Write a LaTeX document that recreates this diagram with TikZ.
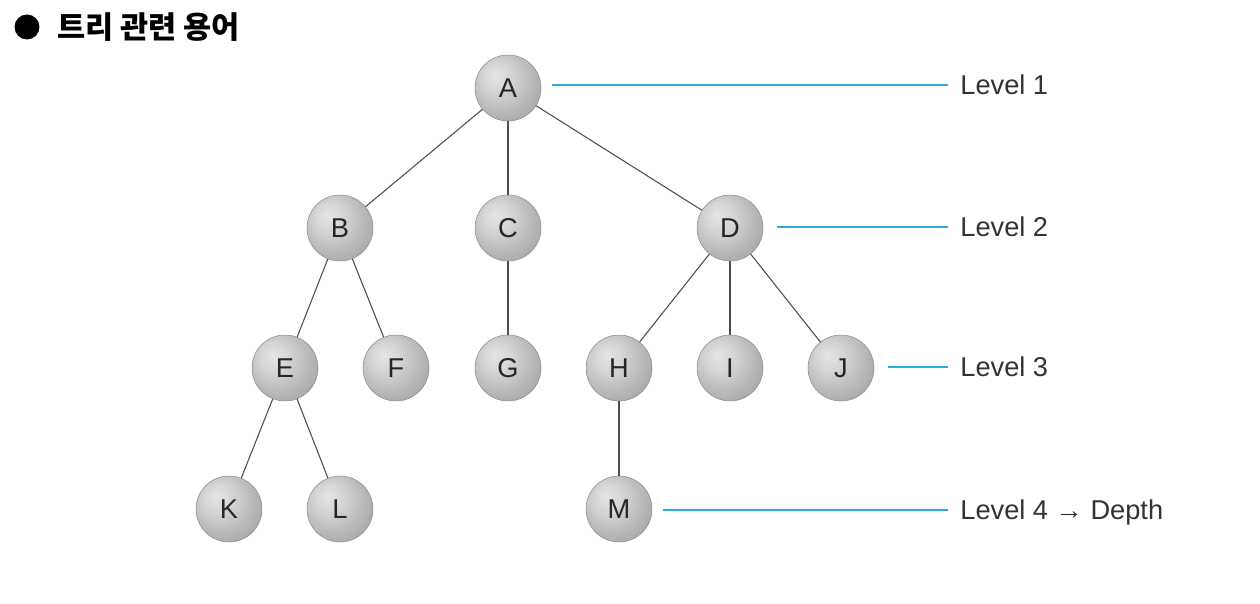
\documentclass[tikz,border=0pt]{standalone}
\usepackage{fontspec}
\setmainfont{Liberation Sans}
\newfontfamily\krfont{Noto Sans CJK KR}
\definecolor{lvlblue}{HTML}{2EA8E0}
\pgfdeclareradialshading{gball}{\pgfpoint{-10bp}{10bp}}{color(0bp)=(black!10); color(10bp)=(black!16); color(30bp)=(black!32); color(50bp)=(black!46); color(62bp)=(black!60)}
\tikzset{
	ball/.style={circle,minimum size=1.32cm,inner sep=0pt,shading=gball,draw=black!45,line width=0.3pt,text=black!85,font=\fontsize{15.5}{18}\selectfont},
	edge/.style={draw=black!70,line width=0.6pt},
	lvl/.style={anchor=west,inner sep=0pt,text height=11.1pt,text depth=0pt,text=black!80,font=\fontsize{15.5}{18}\selectfont},
	lvlline/.style={draw=lvlblue,line width=1pt,shorten >=0.24cm}
}
\begin{document}
\begin{tikzpicture}[x=0.02cm,y=0.02cm]
	\useasboundingbox (0,0) rectangle (1260,-604);
	\node[circle,fill=black,minimum size=0.5cm,inner sep=0pt] (bul) at (27,-27) {};
	\node[anchor=west,inner sep=0pt,font=\krfont\bfseries\fontsize{17.4}{19}\selectfont] (title) at (57,-27) {트리 관련 용어};
	\node[ball] (A) at (508,-88) {A};
	\node[ball] (B) at (340,-228) {B};
	\node[ball] (C) at (508,-228) {C};
	\node[ball] (D) at (730,-228) {D};
	\node[ball] (E) at (285,-368) {E};
	\node[ball] (F) at (396,-368) {F};
	\node[ball] (G) at (508,-368) {G};
	\node[ball] (H) at (619,-368) {H};
	\node[ball] (I) at (730,-368) {I};
	\node[ball] (J) at (841,-368) {J};
	\node[ball] (K) at (229,-509) {K};
	\node[ball] (L) at (340,-509) {L};
	\node[ball] (M) at (619,-509) {M};
	\draw[edge] (A) -- (B);
	\draw[edge] (A) -- (C);
	\draw[edge] (A) -- (D);
	\draw[edge] (B) -- (E);
	\draw[edge] (B) -- (F);
	\draw[edge] (C) -- (G);
	\draw[edge] (D) -- (H);
	\draw[edge] (D) -- (I);
	\draw[edge] (D) -- (J);
	\draw[edge] (E) -- (K);
	\draw[edge] (E) -- (L);
	\draw[edge] (H) -- (M);
	\node[lvl] (l1) at (960,-85) {Level 1};
	\node[lvl] (l2) at (960,-227) {Level 2};
	\node[lvl] (l3) at (960,-367) {Level 3};
	\node[lvl] (l4) at (960,-510) {Level 4 → Depth};
	\draw[lvlline,shorten <=0.22cm] (A.east |- l1.west) -- (l1.west);
	\draw[lvlline,shorten <=0.28cm] (D.east |- l2.west) -- (l2.west);
	\draw[lvlline,shorten <=0.28cm] (J.east |- l3.west) -- (l3.west);
	\draw[lvlline,shorten <=0.22cm] (M.east |- l4.west) -- (l4.west);
\end{tikzpicture}
\end{document}
